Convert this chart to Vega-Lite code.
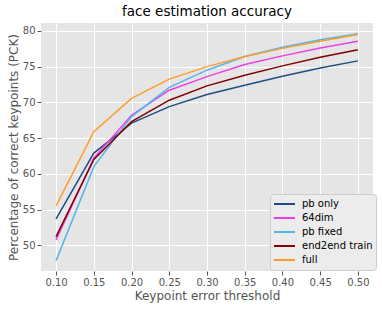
{
  "$schema": "https://vega.github.io/schema/vega-lite/v6.json",
  "autosize": "none",
  "width": 332,
  "height": 248,
  "padding": {"left": 41, "top": 23, "right": 9, "bottom": 38},
  "background": "#ffffff",
  "title": {"text": "face estimation accuracy", "fontSize": 13.5, "font": "DejaVu Sans", "fontWeight": "normal", "color": "#000000", "offset": 5},
  "config": {
    "view": {"fill": "#E5E5E5", "stroke": null},
    "axis": {"gridColor": "#ffffff", "gridWidth": 1, "domain": false, "tickColor": "#555555", "tickSize": 4, "labelColor": "#555555", "labelFont": "DejaVu Sans", "labelFontSize": 10, "titleFont": "DejaVu Sans", "titleFontSize": 12, "titleColor": "#555555", "titleFontWeight": "normal"}
  },
  "data": {"values": [
    {"t": 0.10, "v": 53.7, "s": "pb only"},
    {"t": 0.15, "v": 62.9, "s": "pb only"},
    {"t": 0.20, "v": 67.1, "s": "pb only"},
    {"t": 0.25, "v": 69.4, "s": "pb only"},
    {"t": 0.30, "v": 71.1, "s": "pb only"},
    {"t": 0.35, "v": 72.4, "s": "pb only"},
    {"t": 0.40, "v": 73.65, "s": "pb only"},
    {"t": 0.45, "v": 74.8, "s": "pb only"},
    {"t": 0.50, "v": 75.8, "s": "pb only"},
    {"t": 0.10, "v": 50.75, "s": "64dim"},
    {"t": 0.15, "v": 62.2, "s": "64dim"},
    {"t": 0.20, "v": 68.2, "s": "64dim"},
    {"t": 0.25, "v": 71.7, "s": "64dim"},
    {"t": 0.30, "v": 73.6, "s": "64dim"},
    {"t": 0.35, "v": 75.3, "s": "64dim"},
    {"t": 0.40, "v": 76.5, "s": "64dim"},
    {"t": 0.45, "v": 77.6, "s": "64dim"},
    {"t": 0.50, "v": 78.55, "s": "64dim"},
    {"t": 0.10, "v": 47.85, "s": "pb fixed"},
    {"t": 0.15, "v": 61.0, "s": "pb fixed"},
    {"t": 0.20, "v": 68.0, "s": "pb fixed"},
    {"t": 0.25, "v": 72.1, "s": "pb fixed"},
    {"t": 0.30, "v": 74.5, "s": "pb fixed"},
    {"t": 0.35, "v": 76.4, "s": "pb fixed"},
    {"t": 0.40, "v": 77.7, "s": "pb fixed"},
    {"t": 0.45, "v": 78.75, "s": "pb fixed"},
    {"t": 0.50, "v": 79.6, "s": "pb fixed"},
    {"t": 0.10, "v": 51.2, "s": "end2end train"},
    {"t": 0.15, "v": 62.0, "s": "end2end train"},
    {"t": 0.20, "v": 67.3, "s": "end2end train"},
    {"t": 0.25, "v": 70.3, "s": "end2end train"},
    {"t": 0.30, "v": 72.3, "s": "end2end train"},
    {"t": 0.35, "v": 73.8, "s": "end2end train"},
    {"t": 0.40, "v": 75.1, "s": "end2end train"},
    {"t": 0.45, "v": 76.3, "s": "end2end train"},
    {"t": 0.50, "v": 77.35, "s": "end2end train"},
    {"t": 0.10, "v": 55.5, "s": "full"},
    {"t": 0.15, "v": 65.9, "s": "full"},
    {"t": 0.20, "v": 70.55, "s": "full"},
    {"t": 0.25, "v": 73.25, "s": "full"},
    {"t": 0.30, "v": 75.0, "s": "full"},
    {"t": 0.35, "v": 76.4, "s": "full"},
    {"t": 0.40, "v": 77.55, "s": "full"},
    {"t": 0.45, "v": 78.55, "s": "full"},
    {"t": 0.50, "v": 79.5, "s": "full"}
  ]},
  "mark": {"type": "line", "strokeWidth": 1.5, "clip": true},
  "encoding": {
    "x": {"field": "t", "type": "quantitative", "title": "Keypoint error threshold",
      "scale": {"domain": [0.08, 0.52], "nice": false, "zero": false},
      "axis": {"values": [0.10, 0.15, 0.20, 0.25, 0.30, 0.35, 0.40, 0.45, 0.50], "format": ".2f", "titlePadding": 3}},
    "y": {"field": "v", "type": "quantitative", "title": "Percentage of correct keypoints (PCK)",
      "scale": {"domain": [46.4, 81.1], "nice": false, "zero": false},
      "axis": {"values": [50, 55, 60, 65, 70, 75, 80], "titlePadding": 2}},
    "color": {"field": "s", "type": "nominal", "title": null,
      "scale": {"domain": ["pb only", "64dim", "pb fixed", "end2end train", "full"],
        "range": ["#1f4e87", "#ee3cee", "#56b4e9", "#800000", "#ff9d2a"]},
      "legend": {"orient": "none", "legendX": 229, "legendY": 171, "symbolType": "stroke", "symbolStrokeWidth": 2, "symbolSize": 441,
        "labelFontSize": 10, "labelFont": "DejaVu Sans", "labelColor": "#000000", "rowPadding": 0, "clipHeight": 14, "labelOffset": 6,
        "fillColor": "#ececec", "strokeColor": "#cccccc", "cornerRadius": 3, "padding": 3, "offset": 0}}
  }
}
